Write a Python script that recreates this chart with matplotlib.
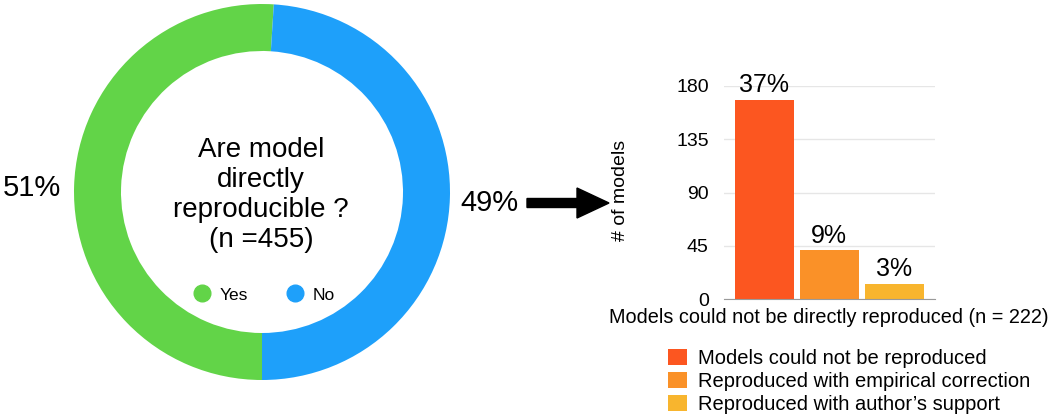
import matplotlib
matplotlib.use("Agg")
import matplotlib.pyplot as plt
from matplotlib.lines import Line2D

plt.rcParams['font.family'] = ['Liberation Sans', 'DejaVu Sans']

# donut data
pie_labels = ['Yes', 'No']
pie_shares = [51, 49]
pie_colors = ['#62D448', '#1EA0FA']
n_total = 455

# bar data
bar_labels = ['Models could not be reproduced',
              'Reproduced with empirical correction',
              "Reproduced with author\u2019s support"]
bar_counts = [168, 41, 13]
bar_pcts = ['37%', '9%', '3%']
bar_colors = ['#FC5620', '#FA9128', '#F8B52E']
y_ticks = [0, 45, 90, 135, 180]
n_not_repro = 222

W, H = 1055, 418
fig = plt.figure(figsize=(W / 100, H / 100), dpi=100)

# donut
d = 376
ax_pie = fig.add_axes([74 / W, 1 - (4 + d) / H, d / W, d / H])
ax_pie.pie(pie_shares, colors=pie_colors, startangle=-90, counterclock=False,
           wedgeprops=dict(width=0.25, edgecolor='none'))
ax_pie.set_xlim(-1, 1)
ax_pie.set_ylim(-1, 1)
ax_pie.set_aspect('equal')

# overlay axes in pixel units, for free text and the arrow
bg = fig.add_axes([0, 0, 1, 1])
bg.set_xlim(0, W)
bg.set_ylim(H, 0)
bg.axis('off')
bg.set_zorder(5)

bg.text(261, 195, f'Are model\ndirectly\nreproducible ?\n(n ={n_total})',
        ha='center', va='center', multialignment='center',
        fontsize=20, linespacing=1.2)
bg.text(32, 188, f'{pie_shares[0]}%', ha='center', va='center', fontsize=21)
bg.text(489, 203, f'{pie_shares[1]}%', ha='center', va='center', fontsize=21)

handles = [Line2D([], [], marker='o', ls='none', markersize=12,
                  markerfacecolor=c, markeredgecolor=c) for c in pie_colors]
bg.legend(handles, pie_labels, ncol=2, frameon=False, fontsize=12.5,
          loc='center', bbox_to_anchor=(264 / W, 1 - 295 / H),
          bbox_transform=fig.transFigure, handlelength=1.0,
          handletextpad=0.5, columnspacing=2.2)

# arrow
bg.arrow(527, 203, 82, 0, width=9, head_width=30, head_length=32,
         length_includes_head=True, color='black')

# bar chart
ax = fig.add_axes([724 / W, 1 - 299 / H, 211 / W, 213 / H])
x = range(len(bar_counts))
bars = ax.bar(x, bar_counts, width=0.91, color=bar_colors, label=bar_labels)
ax.bar_label(bars, labels=bar_pcts, padding=2, fontsize=18)
ax.set_xlim(-0.62, 2.63)
ax.set_ylim(0, 180)
ax.set_yticks(y_ticks)
ax.set_xticks([])
ax.tick_params(axis='y', length=0, pad=11, labelsize=14)
ax.grid(axis='y', color='#E6E6E6', lw=1)
ax.set_axisbelow(True)
for s in ['top', 'right', 'left']:
    ax.spines[s].set_visible(False)
ax.spines['bottom'].set_color('#9A9A9A')
ax.set_ylabel('# of models', fontsize=14)
ax.yaxis.set_label_coords((629 - 724) / 211, (299 - 190) / 213)
ax.set_xlabel(f'Models could not be directly reproduced (n = {n_not_repro})',
              fontsize=14.3)
ax.xaxis.set_label_coords((829 - 724) / 211, -(308 - 299) / 213)

ax.legend(frameon=False, fontsize=14.5, loc='upper left',
          bbox_to_anchor=(668 / W, 1 - 349 / H),
          bbox_transform=fig.transFigure, handlelength=0.95,
          handleheight=0.85, handletextpad=0.55, labelspacing=0.2,
          borderpad=0, borderaxespad=0)

fig.savefig('out.png', dpi=100)
